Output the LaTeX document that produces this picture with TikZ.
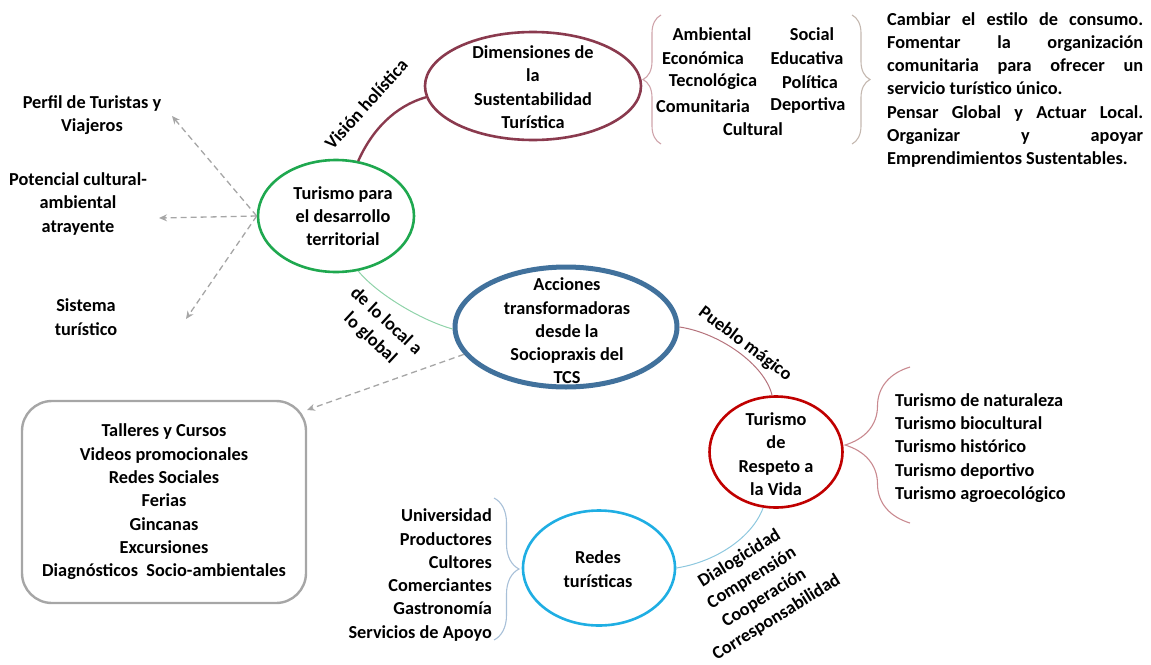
\documentclass[tikz,border=0pt]{standalone}
\usepackage{fontspec}
\setmainfont{Carlito}
\usetikzlibrary{shapes.geometric,arrows.meta,decorations.pathreplacing}
\definecolor{cmaroon}{HTML}{8A3A4E}
\definecolor{cgreen}{HTML}{1FA84F}
\definecolor{cblue}{HTML}{41719C}
\definecolor{cred}{HTML}{C00000}
\definecolor{ccyan}{HTML}{1FAEE3}
\definecolor{cgray}{HTML}{A6A6A6}
\definecolor{lgreen}{HTML}{8FD3A9}
\definecolor{lmaroon}{HTML}{B5737C}
\definecolor{lcyan}{HTML}{8CC7DE}
\definecolor{bpink}{HTML}{CFA4AB}
\definecolor{bgray}{HTML}{C4B8B0}
\definecolor{bred}{HTML}{C98A90}
\definecolor{bblue}{HTML}{A8C0D8}
\tikzset{
  ell/.style={ellipse, draw, inner sep=0pt},
  txt/.style={align=center, inner sep=0pt},
  darrow/.style={draw=cgray, dash pattern=on 6pt off 4pt, line width=1.3pt, -{Stealth[length=8pt,width=7pt]}},
  brc/.style={decorate, decoration={brace, amplitude=#1}, line width=1.1pt},
}
\begin{document}
\begin{tikzpicture}[x=1pt,y=-1pt, every node/.style={font=\bfseries\fontsize{18.3}{23.3}\selectfont}]
\useasboundingbox (0,0) rectangle (1151,664);

% ellipses
\node[ell, draw=cgreen, line width=2.6pt, minimum width=156pt, minimum height=112pt] (tur) at (336,216) {};
\node[txt] (turt) at (343,216) {Turismo para\\el desarrollo\\territorial};

\node[ell, draw=cmaroon, line width=2.6pt, minimum width=216pt, minimum height=108pt] (dim) at (533,86) {};
\node[txt] (dimt) at (533,87) {Dimensiones de\\la\\Sustentabilidad\\Turística};

\node[ell, draw=cblue, line width=5pt, minimum width=222pt, minimum height=120pt] (acc) at (566,327) {};
\node[txt] (acct) at (567,331) {Acciones\\transformadoras\\desde la\\Sociopraxis del\\TCS};

\node[ell, draw=cred, line width=2.6pt, minimum width=133pt, minimum height=111pt] (resp) at (776,452) {};
\node[txt] (respt) at (776,454) {Turismo\\de\\Respeto a\\la Vida};

\node[ell, draw=ccyan, line width=2.6pt, minimum width=152pt, minimum height=115pt] (redes) at (599,568) {};
\node[txt] (redest) at (598,569) {Redes\\turísticas};

% connectors
\draw[cmaroon, line width=2.4pt] (tur.68) .. controls (372,130) and (395,106) .. (dim.186);
\draw[lgreen, line width=1pt] (tur.-68) .. controls (376,293) and (420,320) .. (acc.181);
\draw[lmaroon, line width=1pt] (acc.east) .. controls (720,333) and (765,365) .. (resp.94);
\draw[lcyan, line width=1pt] (redes.east) .. controls (715,562) and (752,538) .. (resp.-103);

% connector labels
\node[txt, rotate=48] (vis) at (366,104) {Visión holística};
\node[txt, rotate=-43] (loc) at (378,330) {de lo local a\\lo global};
\node[txt, rotate=-37] (pue) at (745,344) {Pueblo mágico};
\node[txt, rotate=32] (dia) at (758,588) {Dialogicidad\\Comprensión\\Cooperación\\Corresponsabilidad};

% left texts and dashed arrows
\node[txt] (perfil) at (92,115) {Perfil de Turistas y\\Viajeros};
\node[txt] (pot) at (78,204) {Potencial cultural-\\ambiental\\atrayente};
\node[txt] (sis) at (86,317) {Sistema\\turístico};
\coordinate (a1) at (172,116);
\coordinate (a2) at (159,218);
\coordinate (a3) at (186,319);
\draw[darrow] (tur.west) -- (a1);
\draw[darrow] (tur.west) -- (a2);
\draw[darrow] (tur.west) -- (a3);

% rounded box
\node[draw=cgray, line width=2.4pt, rounded corners=30pt, minimum width=284pt, minimum height=202pt, align=center] (box) at (164,502)
 {Talleres y Cursos\\Videos promocionales\\Redes Sociales\\Ferias\\Gincanas\\Excursiones\\Diagnósticos\ \ Socio-ambientales};
\coordinate (a4) at (307,410);
\draw[darrow] (acc.195) -- (a4);

% dimensions list with braces
\node (dw1) at (712,34) {Ambiental};
\node (dw2) at (812,34) {Social};
\node (dw3) at (703,58) {Económica};
\node (dw4) at (807,58) {Educativa};
\node (dw5) at (713,82) {Tecnológica};
\node (dw6) at (810,82) {Política};
\node (dw7) at (703,106) {Comunitaria};
\node (dw8) at (808,106) {Deportiva};
\node (dw9) at (753,129) {Cultural};
\coordinate (b1s) at (661,144);
\coordinate (b1e) at (661,15);
\draw[brc=18pt, bpink] (b1s) -- (b1e);
\coordinate (b2s) at (852,15);
\coordinate (b2e) at (852,144);
\draw[brc=18pt, bgray] (b2s) -- (b2e);

% right paragraph
\node[anchor=north west, inner sep=0pt, text width=256pt, align=justify] (par) at (887,12)
 {Cambiar el estilo de consumo.\linebreak Fomentar la organización\linebreak comunitaria para ofrecer un\linebreak servicio turístico único.\par
  Pensar Global y Actuar Local.\linebreak Organizar y apoyar\linebreak Emprendimientos Sustentables.};

% tourism types with brace
\coordinate (b3s) at (910,523);
\coordinate (b3e) at (910,367);
\draw[brc=65pt, bred] (b3s) -- (b3e);
\node[txt, anchor=west, align=left] (tipos) at (895,448)
 {Turismo de naturaleza\\Turismo biocultural\\Turismo histórico\\Turismo deportivo\\Turismo agroecológico};

% actors with brace
\node[txt, anchor=east, align=right] (act) at (492,575)
 {Universidad\\Productores\\Cultores\\Comerciantes\\Gastronomía\\Servicios de Apoyo};
\coordinate (b4s) at (494,498);
\coordinate (b4e) at (494,640);
\draw[brc=25pt, bblue] (b4s) -- (b4e);
\end{tikzpicture}
\end{document}
